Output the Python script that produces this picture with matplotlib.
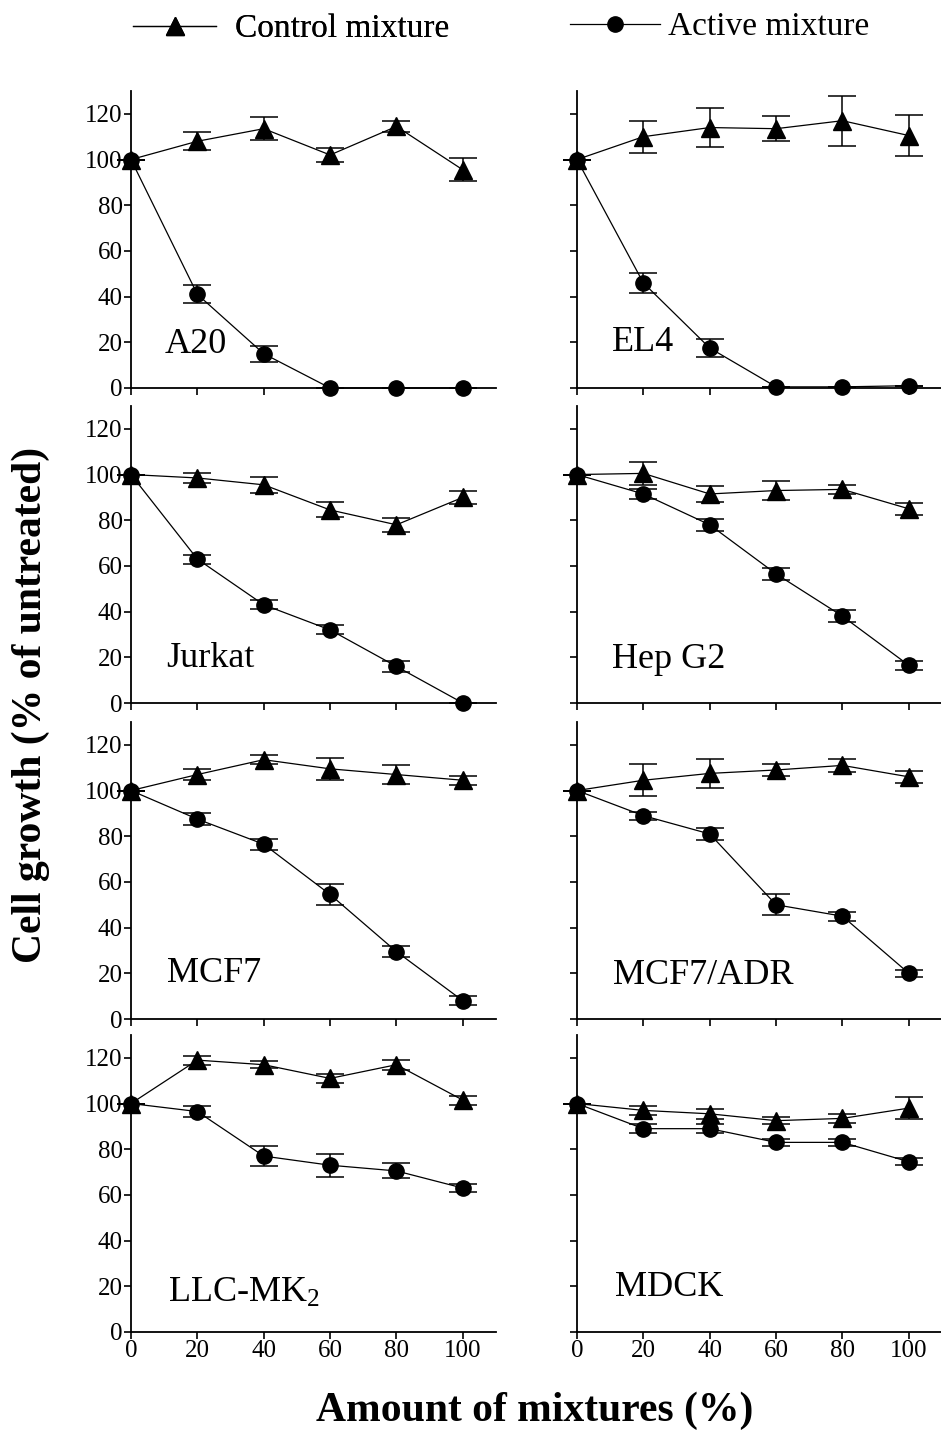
import numpy as np
import matplotlib
matplotlib.use("Agg")
import matplotlib.pyplot as plt
from matplotlib.lines import Line2D

plt.rcParams["font.family"] = ["Liberation Serif", "DejaVu Serif"]
plt.rcParams["mathtext.fontset"] = "custom"
plt.rcParams["mathtext.rm"] = "Liberation Serif"
plt.rcParams["mathtext.default"] = "regular"

# ---- Data (x = amount of mixture, %) ----
doses = [0, 20, 40, 60, 80, 100]
cells = ["A20", "EL4", "Jurkat", "Hep G2", "MCF7", "MCF7/ADR", "LLC-MK$_2$", "MDCK"]

control_mean = [
    [100, 108, 113.5, 102, 114.5, 95.5],
    [100, 110, 114, 113.5, 117, 110.5],
    [100, 98.5, 95.5, 84.5, 78, 90],
    [100, 100.5, 91.5, 93, 93.5, 85],
    [100, 107, 113.5, 109.5, 107, 104.5],
    [100, 104.5, 107.5, 109, 111, 106],
    [100, 119, 117, 111, 117, 101.5],
    [100, 97, 95.5, 92.5, 93.5, 98],
]
control_err = [
    [0, 4, 5, 3, 2.5, 5],
    [0, 7, 8.5, 5.5, 11, 9],
    [0, 2, 3.5, 3.3, 3, 3],
    [0, 5, 3.5, 4, 2, 2.5],
    [0, 2.5, 2, 4.7, 4, 2],
    [0, 7, 6.5, 2.5, 3, 2.5],
    [0, 2, 1.5, 2, 2.2, 2],
    [0, 2, 2.2, 1.5, 2, 4.8],
]
active_mean = [
    [100, 41, 15, 0, 0, 0],
    [100, 46, 17.5, 0.5, 0.5, 1],
    [100, 63, 43, 32, 16, 0],
    [100, 91.5, 78, 56.5, 38, 16.5],
    [100, 87.5, 76.5, 54.5, 29.5, 8],
    [100, 89, 81, 50, 45, 20],
    [100, 96.5, 77, 73, 70.5, 63],
    [100, 89, 89, 83, 83, 74.5],
]
active_err = [
    [0, 4, 3.5, 0, 0, 0],
    [0, 4.3, 4, 0, 0, 0],
    [0, 2, 2, 2, 2.5, 0],
    [0, 2, 2.5, 2.5, 2.5, 2],
    [0, 2.5, 2.5, 4.5, 2.5, 2],
    [0, 1.8, 2.5, 4.5, 2, 1.5],
    [0, 2.3, 4.5, 5, 3.3, 1.7],
    [0, 1.9, 2, 1.5, 1.5, 1.5],
]

# ---- Layout (figure fractions) ----
W, H = 941, 1434
LEFTS = [131 / W, 577 / W]
BOTTOMS = [1 - 388 / H, 1 - 703 / H, 1 - 1019 / H, 1 - 1332 / H]
AX_W = 365 / W
AX_H = 297 / H
LABEL_POS = [(10, 15.5), (10.5, 16), (10.5, 15.8), (10.5, 15.3),
             (10.8, 16), (10.8, 15.5), (11, 13), (11.4, 15.8)]

fig = plt.figure(figsize=(W / 100, H / 100), dpi=100)

line_kw = dict(color="black", lw=0.9, elinewidth=1.1, capsize=10, capthick=1.1,
               clip_on=False)

for i, name in enumerate(cells):
    row, col = divmod(i, 2)
    ax = fig.add_axes([LEFTS[col], BOTTOMS[row], AX_W, AX_H])
    eb = ax.errorbar(doses, active_mean[i], yerr=active_err[i], marker="o", ms=11,
                     mfc="black", mec="black", zorder=3, **line_kw)
    eb2 = ax.errorbar(doses, control_mean[i], yerr=control_err[i], marker="^", ms=13,
                      mfc="black", mec="black", zorder=4, **line_kw)
    for e in (eb, eb2):
        for art in e.lines[1] + e.lines[2]:
            art.set_clip_on(False)

    ax.set_xlim(0, 110)
    ax.set_ylim(0, 130)
    ax.set_xticks(doses)
    ax.set_yticks(np.arange(0, 121, 20))
    for s in ("top", "right"):
        ax.spines[s].set_visible(False)
    for s in ("left", "bottom"):
        ax.spines[s].set_linewidth(1.3)
    ax.tick_params(direction="out", length=5, width=1.2, labelsize=18, pad=1)
    if col == 1:
        ax.tick_params(labelleft=False)
    if row < 3:
        ax.tick_params(labelbottom=False)
    ax.patch.set_alpha(0)

    lx, ly = LABEL_POS[i]
    ax.text(lx, ly, name, fontsize=26, va="baseline", ha="left")

# ---- Legend across the top ----
h_ctrl = Line2D([], [], color="black", lw=0.9, marker="^", ms=13)
h_act = Line2D([], [], color="black", lw=0.9, marker="o", ms=11)
leg1 = fig.legend(handles=[h_ctrl], labels=["Control mixture"], loc="center left",
                  bbox_to_anchor=(133 / W, 1 - 29 / H), frameon=False, fontsize=24,
                  handlelength=2.5, handletextpad=0.55, borderpad=0, borderaxespad=0)
fig.add_artist(leg1)
fig.legend(handles=[h_act], labels=["Active mixture"], loc="center left",
           bbox_to_anchor=(570 / W, 1 - 27 / H), frameon=False, fontsize=24,
           handlelength=2.7, handletextpad=0.25, borderpad=0, borderaxespad=0)

fig.text(31 / W, 1 - 705 / H, "Cell growth (% of untreated)", rotation=90,
         fontsize=30, fontweight="bold", ha="center", va="center")
fig.text(535 / W, 1 - 1411 / H, "Amount of mixtures (%)", fontsize=30,
         fontweight="bold", ha="center", va="center")

fig.savefig("out.png", dpi=100)
